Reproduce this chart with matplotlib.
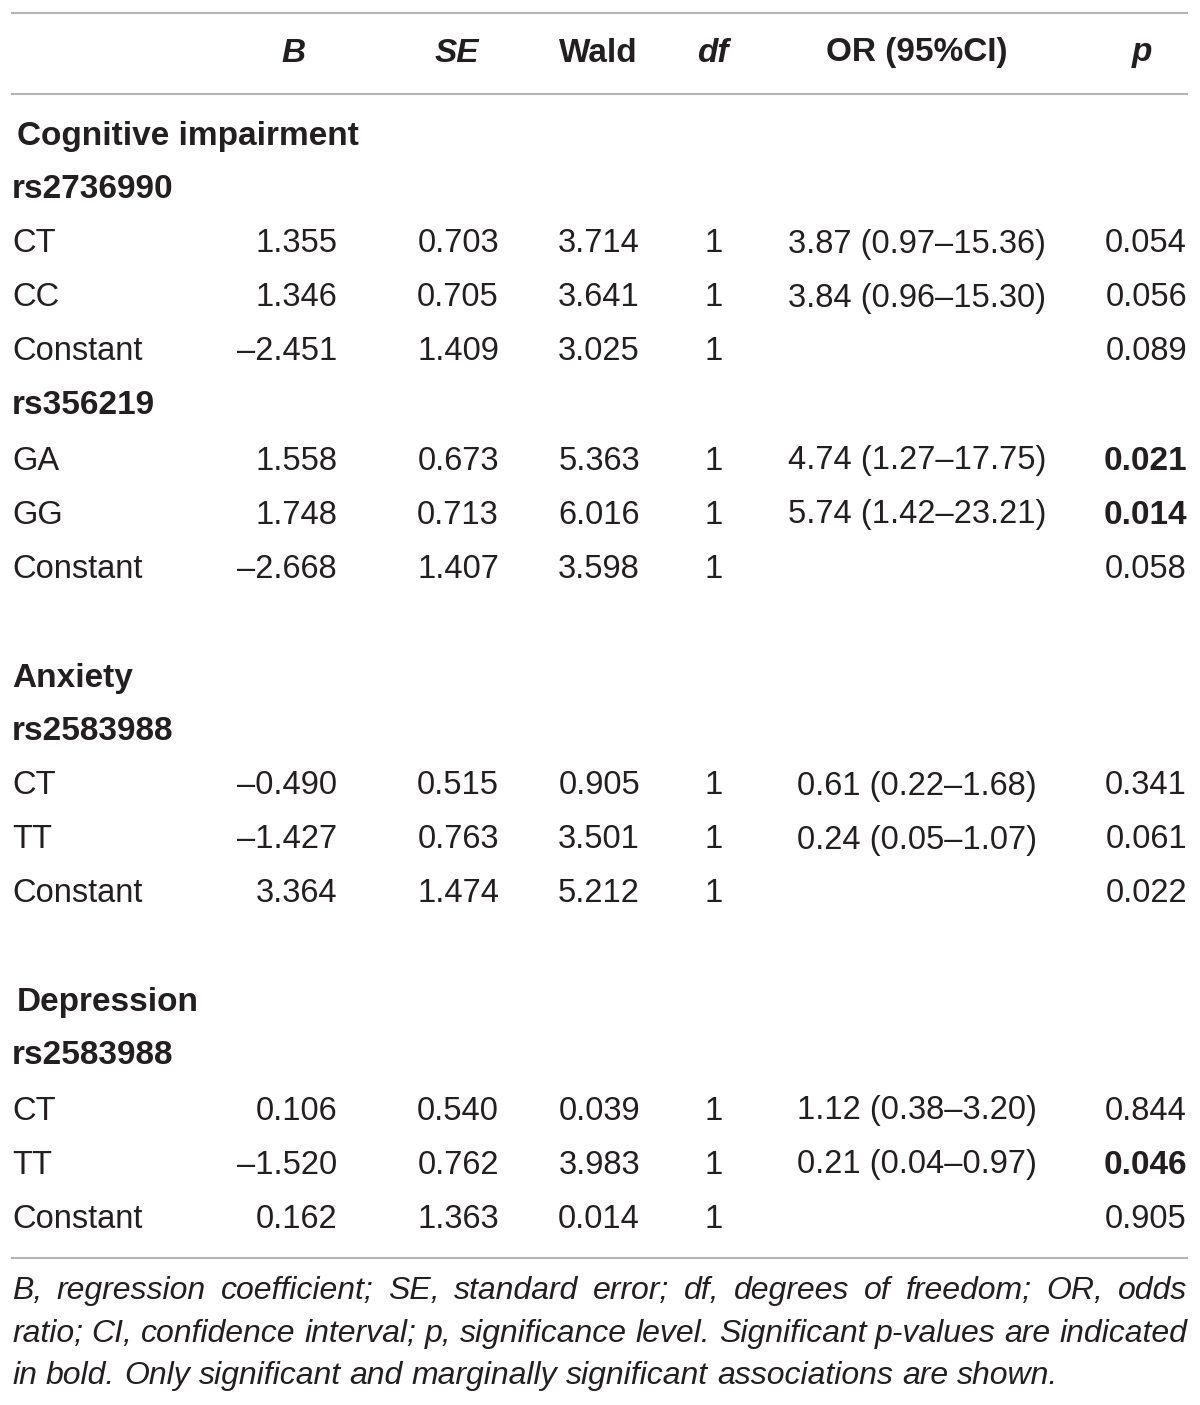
import matplotlib
matplotlib.use("Agg")
import matplotlib.pyplot as plt

# table data
headers = ["B", "SE", "Wald", "df", "OR (95%CI)", "p"]
header_italic = [True, True, False, True, False, True]

sections = ["Cognitive impairment", "Anxiety", "Depression"]
snps = [["rs2736990", "rs356219"], ["rs2583988"], ["rs2583988"]]

labels = [
    ["CT", "CC", "Constant"], ["GA", "GG", "Constant"],
    ["CT", "TT", "Constant"],
    ["CT", "TT", "Constant"],
]
b_vals = [
    ["1.355", "1.346", "\u20132.451"], ["1.558", "1.748", "\u20132.668"],
    ["\u20130.490", "\u20131.427", "3.364"],
    ["0.106", "\u20131.520", "0.162"],
]
se_vals = [
    ["0.703", "0.705", "1.409"], ["0.673", "0.713", "1.407"],
    ["0.515", "0.763", "1.474"],
    ["0.540", "0.762", "1.363"],
]
wald_vals = [
    ["3.714", "3.641", "3.025"], ["5.363", "6.016", "3.598"],
    ["0.905", "3.501", "5.212"],
    ["0.039", "3.983", "0.014"],
]
df_vals = [["1", "1", "1"], ["1", "1", "1"], ["1", "1", "1"], ["1", "1", "1"]]
or_vals = [
    ["3.87 (0.97\u201315.36)", "3.84 (0.96\u201315.30)", ""],
    ["4.74 (1.27\u201317.75)", "5.74 (1.42\u201323.21)", ""],
    ["0.61 (0.22\u20131.68)", "0.24 (0.05\u20131.07)", ""],
    ["1.12 (0.38\u20133.20)", "0.21 (0.04\u20130.97)", ""],
]
p_vals = [
    ["0.054", "0.056", "0.089"], ["0.021", "0.014", "0.058"],
    ["0.341", "0.061", "0.022"],
    ["0.844", "0.046", "0.905"],
]
p_bold = [
    [False, False, False], [True, True, False],
    [False, False, False],
    [False, True, False],
]

foot_lines = [
    "B, regression coefficient; SE, standard error; df, degrees of freedom; OR, odds",
    "ratio; CI, confidence interval; p, significance level. Significant p-values are indicated",
    "in bold. Only significant and marginally significant associations are shown.",
]

plt.rcParams['font.family'] = ['Liberation Sans', 'DejaVu Sans']
txt = '#231f20'
rule = '#b4b4b4'
fs = 23.5
fs_bold = 24
fs_foot = 23

fig = plt.figure(figsize=(12, 14.05), dpi=100)
ax = fig.add_axes([0, 0, 1, 1])
ax.set_xlim(0, 1200)
ax.set_ylim(1405, 0)
ax.axis('off')

# rules
for y in [13, 94, 1258]:
    ax.plot([12, 1187], [y, y], color=rule, lw=1.5)

# header
head_x = [293, 457, 598, 713, 917, 1142]
for h, x, it in zip(headers, head_x, header_italic):
    ax.text(x, 53, h, ha='center', va='center', fontsize=fs_bold, fontweight='bold',
            style='italic' if it else 'normal', color=txt)

# column anchors: (x, ha)
cols = [(337, 'right'), (499, 'right'), (640, 'right'), (714, 'center'),
        (917, 'center'), (1187, 'right')]

y = 136
step = 54
blk = 0
for si, sec in enumerate(sections):
    ax.text(12 if sec == "Anxiety" else 17, y, sec, ha='left', va='center',
            fontsize=fs_bold, fontweight='bold', color=txt)
    y += step - 1
    for snp in snps[si]:
        ax.text(12, y, snp, ha='left', va='center', fontsize=fs_bold,
                fontweight='bold', color=txt)
        y += step + 1
        for r in range(3):
            row = [b_vals[blk][r], se_vals[blk][r], wald_vals[blk][r],
                   df_vals[blk][r], or_vals[blk][r], p_vals[blk][r]]
            ax.text(12, y, labels[blk][r], ha='left', va='center',
                    fontsize=fs, color=txt)
            for ci, (val, (x, ha)) in enumerate(zip(row, cols)):
                bold = ci == 5 and p_bold[blk][r]
                ax.text(x, y, val, ha=ha, va='center',
                        fontsize=fs_bold if bold else fs, color=txt,
                        fontweight='bold' if bold else 'normal')
            y += step
        blk += 1
    y += step + 1

# footnote, justified
fig.canvas.draw()
renderer = fig.canvas.get_renderer()
inv = ax.transData.inverted()
left, right = 12, 1187
foot_y = [1291, 1334, 1376]
for li, (line, fy) in enumerate(zip(foot_lines, foot_y)):
    words = line.split(' ')
    arts = []
    widths = []
    for w in words:
        t = ax.text(0, fy, w, ha='left', va='center', fontsize=fs_foot,
                    style='italic', color=txt)
        bb = t.get_window_extent(renderer)
        x0 = inv.transform((bb.x0, bb.y0))[0]
        x1 = inv.transform((bb.x1, bb.y0))[0]
        arts.append(t)
        widths.append(x1 - x0)
    if li < len(foot_lines) - 1:
        gap = (right - left - sum(widths)) / (len(words) - 1)
    else:
        sp = ax.text(0, fy, 'a a', fontsize=fs_foot, style='italic')
        sa = ax.text(0, fy, 'aa', fontsize=fs_foot, style='italic')
        gap = (sp.get_window_extent(renderer).width - sa.get_window_extent(renderer).width)
        gap = inv.transform((gap, 0))[0] - inv.transform((0, 0))[0]
        sp.remove()
        sa.remove()
    x = left
    for t, w in zip(arts, widths):
        t.set_x(x)
        x += w + gap

fig.savefig('out.png', dpi=100, facecolor='white')
